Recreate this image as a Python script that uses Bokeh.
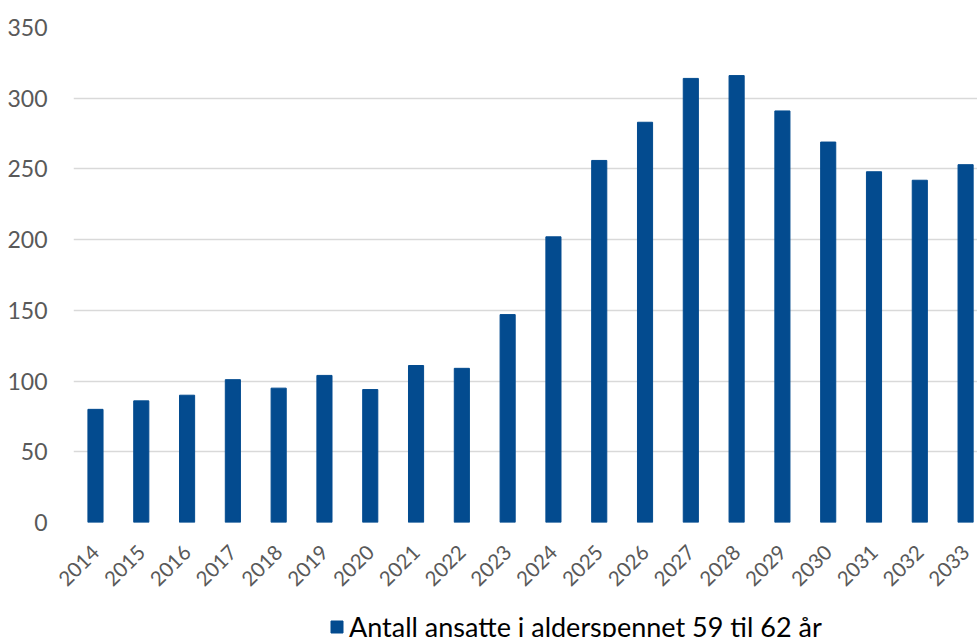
import math
from bokeh.plotting import figure
from bokeh.layouts import column
from bokeh.models import Range1d, FixedTicker, Legend, LegendItem, ColumnDataSource
from bokeh.embed import file_html
from bokeh.resources import INLINE

years = ["2014", "2015", "2016", "2017", "2018", "2019", "2020", "2021", "2022", "2023",
         "2024", "2025", "2026", "2027", "2028", "2029", "2030", "2031", "2032", "2033"]
values = [80, 86, 90, 101, 95, 104, 94, 111, 109, 147,
          202, 256, 283, 314, 316, 291, 269, 248, 242, 253]
y_ticks = [0, 50, 100, 150, 200, 250, 300, 350]
series_name = "Antall ansatte i alderspennet 59 til 62 år"

FONT = "Lato"
BAR = "#034B8F"

idx = list(range(len(years)))
src = ColumnDataSource(dict(x=idx, top=values))

p = figure(width=977, height=600, output_backend="svg", toolbar_location=None,
           x_range=Range1d(-0.48, 19.26), y_range=Range1d(0, 350),
           min_border_left=73, min_border_right=0, min_border_top=27,
           min_border_bottom=78)
p.outline_line_color = None
r = p.vbar(x="x", top="top", width=0.33, bottom=0, source=src, color=BAR)

p.xaxis.ticker = FixedTicker(ticks=idx)
p.xaxis.major_label_overrides = {i: y for i, y in zip(idx, years)}
p.xaxis.major_label_orientation = math.pi / 4
p.yaxis.ticker = FixedTicker(ticks=y_ticks)
for ax in (p.xaxis, p.yaxis):
    ax.axis_line_color = None
    ax.major_tick_line_color = None
    ax.minor_tick_line_color = None
    ax.major_label_text_font = FONT
    ax.major_label_text_color = "#595959"
p.yaxis.major_label_text_font_size = "23px"
p.xaxis.major_label_text_font_size = "20.5px"
p.xaxis.major_label_standoff = 20
p.yaxis.major_label_standoff = 20
p.xgrid.grid_line_color = None
p.ygrid.grid_line_color = "#d9d9d9"
p.ygrid.grid_line_width = 1.5

# legend strip below the chart (no axes, frame = whole strip)
lf = figure(width=977, height=37, output_backend="svg", toolbar_location=None,
            x_range=Range1d(-100, -99), y_range=Range1d(0, 1), min_border=0,
            x_axis_location=None, y_axis_location=None)
lf.grid.visible = False
lf.outline_line_color = None
proxy = lf.vbar(x="x", top="top", width=0.33, source=src, color=BAR, visible=False)
legend = Legend(items=[LegendItem(label=series_name, renderers=[proxy])],
                location=(256, -6), orientation="horizontal",
                label_text_font=FONT, label_text_font_size="27px",
                label_text_color="#000000", glyph_width=15, glyph_height=15,
                border_line_color=None, background_fill_alpha=0,
                inactive_fill_alpha=0,
                padding=0, margin=0, label_standoff=5)
lf.add_layout(legend, "center")

layout = column(p, lf, spacing=0)
open("out.html", "w").write(file_html(layout, INLINE))
